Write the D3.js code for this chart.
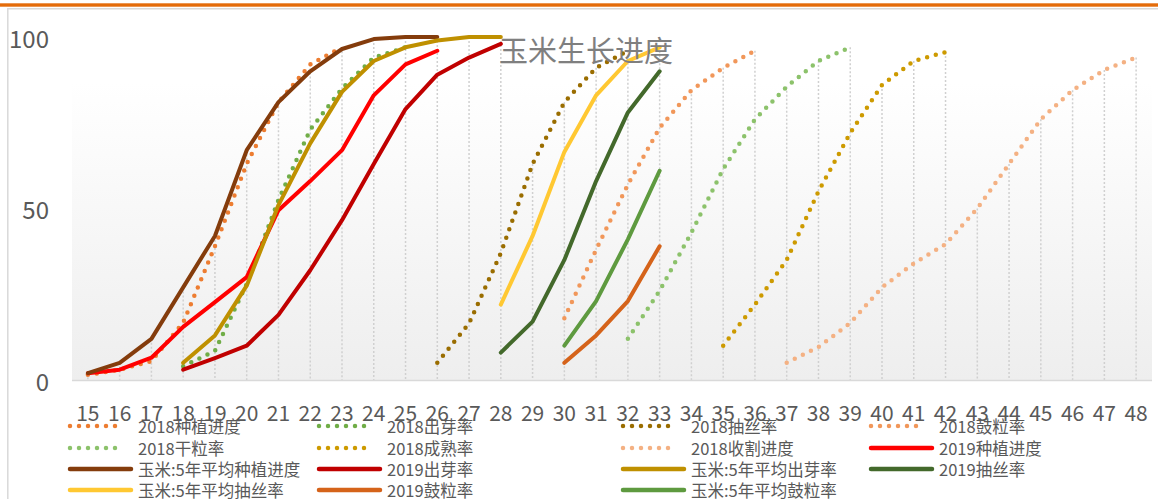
<!DOCTYPE html>
<html>
<head>
<meta charset="utf-8">
<script src="https://cdn.jsdelivr.net/npm/d3@7"></script>
<style>
  html, body { margin: 0; padding: 0; background: #ffffff; }
  svg { display: block; font-family: "Noto Sans CJK SC", "Noto Sans", sans-serif; }
</style>
</head>
<body>
<svg id="chart" width="1158" height="499"></svg>
<script>
// ---- data ----
const weeks = [15,16,17,18,19,20,21,22,23,24,25,26,27,28,29,30,31,32,33,34,35,36,37,38,39,40,41,42,43,44,45,46,47,48];
const yTicks = [0, 50, 100];
const title = "玉米生长进度";

const seriesNames = [
  "2018种植进度", "2018出芽率", "2018抽丝率", "2018鼓粒率",
  "2018干粒率", "2018成熟率", "2018收割进度", "2019种植进度",
  "玉米:5年平均种植进度", "2019出芽率", "玉米:5年平均出芽率", "2019抽丝率",
  "玉米:5年平均抽丝率", "2019鼓粒率", "玉米:5年平均鼓粒率"
];
// first week of each series
const seriesStarts = [15, 18, 26, 30, 32, 35, 37, 15, 15, 18, 18, 28, 28, 30, 30];

const plant2018   = [1.5, 3, 5.5, 16.7, 39, 63, 81, 92, 97];
const emerge2018  = [4, 8.5, 28, 52.5, 73, 85, 94, 97];
const silk2018    = [5, 16.5, 37, 63, 81, 91, 96];
const dough2018   = [18, 38, 57, 73.5, 84.5, 91, 96];
const dent2018    = [12, 26, 43, 61.5, 76, 85.5, 93, 97];
const mature2018  = [10, 22, 35, 55, 72, 86, 93, 95.6];
const harvest2018 = [5, 9.6, 16.6, 27, 34, 39.6, 50, 63, 76, 84.5, 90.4, 94];
const plant2019   = [2, 3, 6.5, 15.5, 22.7, 30, 49.5, 58, 67, 83, 92, 96];
const plant5y     = [2, 5, 12, 27, 42, 67, 81, 90, 96.5, 99.4, 100, 100];
const emerge2019  = [3, 6.4, 10, 19, 32, 46.6, 63, 79, 89, 94, 98];
const emerge5y    = [5, 13, 27.5, 51, 69, 84, 93, 97, 99, 100, 100];
const silk2019    = [8, 17, 35, 58, 78, 90];
const silk5y      = [22, 42, 66.5, 83, 93, 97];
const dough2019   = [5, 13, 23, 39];
const dough5y     = [10, 23, 41, 61];

const seriesValues = [plant2018, emerge2018, silk2018, dough2018, dent2018, mature2018, harvest2018,
  plant2019, plant5y, emerge2019, emerge5y, silk2019, silk5y, dough2019, dough5y];

// ---- styles ----
const seriesColors = ["#ED7D31", "#70AD47", "#9A6D00", "#F1975A", "#8CC26B", "#CD9A00", "#F4B183",
  "#FF0000", "#843C0C", "#C00000", "#BF9000", "#43692B", "#FFC832", "#D5631A", "#5E9A3F"];
const seriesDotted = [true, true, true, true, true, true, true,
  false, false, false, false, false, false, false, false];

// ---- layout ----
const svg = d3.select("#chart");
const plot = { left: 72, right: 1152, top: 83, bottom: 380 };

const x = d3.scaleBand().domain(weeks).range([plot.left, plot.right]).padding(0);
const xc = w => x(w) + x.bandwidth() / 2;
const y = d3.scaleLinear().domain([0, 100]).range([380, 37]);

// frame decoration
svg.append("rect").attr("x", 0).attr("y", 3.3).attr("width", 1158).attr("height", 3.4).attr("fill", "#E46C0A");
svg.append("line").attr("x1", 7).attr("x2", 1158).attr("y1", 8.7).attr("y2", 8.7)
  .attr("stroke", "#D9D9D9").attr("stroke-width", 1.5);
svg.append("line").attr("x1", 7.8).attr("x2", 7.8).attr("y1", 8.7).attr("y2", 499)
  .attr("stroke", "#D9D9D9").attr("stroke-width", 1.5);

// plot background gradient
const defs = svg.append("defs");
const grad = defs.append("linearGradient").attr("id", "bg").attr("x1", 0).attr("x2", 0).attr("y1", 0).attr("y2", 1);
grad.append("stop").attr("offset", "0%").attr("stop-color", "#FFFFFF");
grad.append("stop").attr("offset", "100%").attr("stop-color", "#EEEEEE");
svg.append("rect").attr("x", plot.left).attr("y", plot.top)
  .attr("width", plot.right - plot.left).attr("height", plot.bottom - plot.top)
  .attr("fill", "url(#bg)");

// build point lists
const series = seriesNames.map((name, i) => ({
  name,
  color: seriesColors[i],
  dotted: seriesDotted[i],
  points: seriesValues[i].map((v, j) => ({ week: seriesStarts[i] + j, value: v }))
}));

// drop lines (from highest point at each week down to axis)
const maxByWeek = weeks.map(w => {
  let m = null;
  series.forEach(s => s.points.forEach(p => { if (p.week === w && (m === null || p.value > m)) m = p.value; }));
  return { week: w, value: m };
}).filter(d => d.value !== null);

svg.append("g").selectAll("line").data(maxByWeek).join("line")
  .attr("x1", d => xc(d.week)).attr("x2", d => xc(d.week))
  .attr("y1", d => y(d.value)).attr("y2", y(0))
  .attr("stroke", "#D0D0D0").attr("stroke-width", 1.5).attr("stroke-dasharray", "2 2");

// bottom axis line
svg.append("line").attr("x1", plot.left).attr("x2", plot.right).attr("y1", y(0) + 0.5).attr("y2", y(0) + 0.5)
  .attr("stroke", "#D9D9D9").attr("stroke-width", 1.5);

// series lines
const line = d3.line().x(d => xc(d.week)).y(d => y(d.value));
svg.append("g").selectAll("path").data(series).join("path")
  .attr("d", d => line(d.points))
  .attr("fill", "none")
  .attr("stroke", d => d.color)
  .attr("stroke-width", d => d.dotted ? 4.5 : 4)
  .attr("stroke-linecap", "round")
  .attr("stroke-linejoin", "round")
  .attr("stroke-dasharray", d => d.dotted ? "0 9" : null);

// y axis labels
svg.append("g").selectAll("text").data(yTicks).join("text")
  .attr("x", 49).attr("y", d => y(d))
  .attr("text-anchor", "end").attr("dominant-baseline", "central")
  .attr("font-size", 24).attr("fill", "#595959")
  .text(d => d);

// x axis labels
svg.append("g").selectAll("text").data(weeks).join("text")
  .attr("x", d => xc(d)).attr("y", 412)
  .attr("text-anchor", "middle").attr("dominant-baseline", "central")
  .attr("font-size", 21).attr("fill", "#595959")
  .text(d => d);

// title
svg.append("text").attr("x", 586).attr("y", 49)
  .attr("text-anchor", "middle").attr("dominant-baseline", "central")
  .attr("font-size", 29).attr("fill", "#7F7F7F")
  .text(title);

// legend
const legCols = [68, 317, 621, 869];
const legRows = [426, 448, 469, 490];
const leg = svg.append("g").selectAll("g").data(series).join("g")
  .attr("transform", (d, i) => `translate(${legCols[i % 4]},${legRows[Math.floor(i / 4)]})`);
leg.append("line")
  .attr("x1", 2).attr("x2", d => d.dotted ? 56 : 63).attr("y1", 0).attr("y2", 0)
  .attr("stroke", d => d.color)
  .attr("stroke-width", d => d.dotted ? 4.5 : 4.5)
  .attr("stroke-linecap", "round")
  .attr("stroke-dasharray", d => d.dotted ? "0 9" : null);
leg.append("text")
  .attr("x", d => 70).attr("y", 0)
  .attr("dominant-baseline", "central")
  .attr("font-size", 16.5).attr("fill", "#595959")
  .text(d => d.name);
</script>
</body>
</html>
